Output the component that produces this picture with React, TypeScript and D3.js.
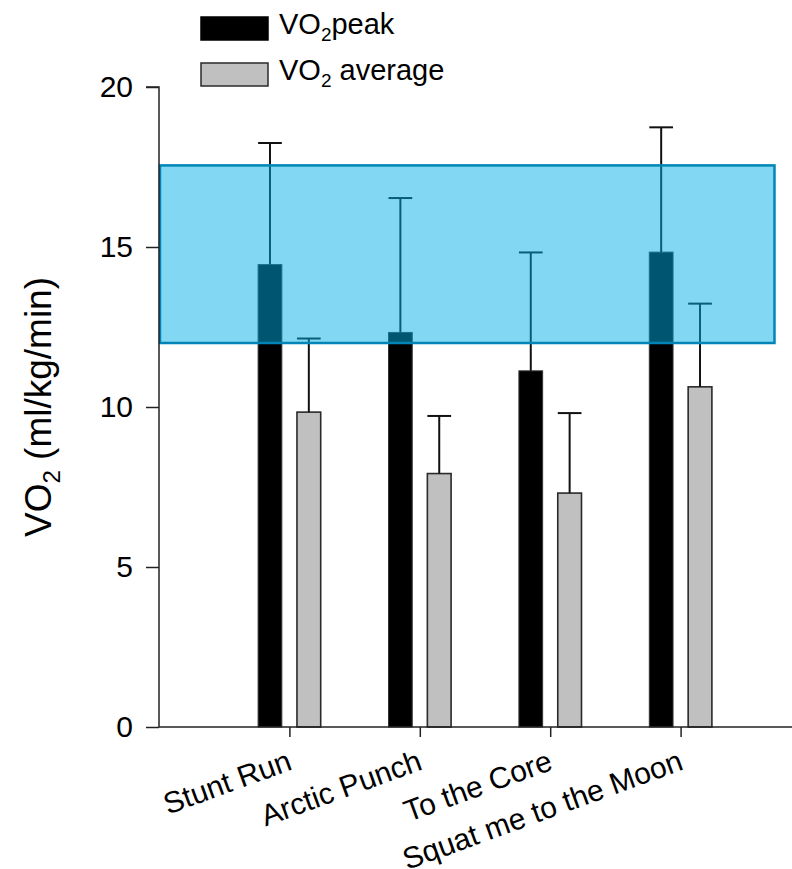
import { useEffect, useRef } from "react";
import * as d3 from "d3";

const categories = ["Stunt Run", "Arctic Punch", "To the Core", "Squat me to the Moon"];
const peakValues = [14.45, 12.33, 11.13, 14.84];
const peakErrors = [3.8, 4.2, 3.7, 3.9];
const averageValues = [9.84, 7.92, 7.31, 10.63];
const averageErrors = [2.3, 1.8, 2.5, 2.6];
const yTicks = [0, 5, 10, 15, 20];
// shaded target zone (y range, and x extent in category units)
const zoneY = [12, 17.55];
const zoneX = [0, 4.72];

export default function App() {
  const svgRef = useRef<SVGSVGElement>(null);
  const width = 792;
  const height = 869;

  useEffect(() => {
    drawChart();
  }, []);

  function drawChart() {
    const svg = d3.select(svgRef.current);
    svg.selectAll("*").remove();

    const x = d3.scaleLinear().domain([0, 5]).range([159, 811]);
    const y = d3.scaleLinear().domain([0, 20]).range([727, 87]);
    const barW = 0.182;
    const offset = 0.149;
    const font = "'Liberation Sans', Arial, sans-serif";

    const rows = categories.map((c, i) => ({
      name: c,
      pos: i + 1,
      peak: peakValues[i],
      peakErr: peakErrors[i],
      avg: averageValues[i],
      avgErr: averageErrors[i],
    }));

    const bars = svg.append("g");
    // peak bars
    bars.selectAll("rect.peak")
      .data(rows)
      .join("rect")
      .attr("class", "peak")
      .attr("x", (d) => x(d.pos - offset - barW / 2))
      .attr("width", x(barW) - x(0))
      .attr("y", (d) => y(d.peak))
      .attr("height", (d) => y(0) - y(d.peak))
      .attr("fill", "#000")
      .attr("stroke", "#333")
      .attr("stroke-width", 1);

    // average bars
    bars.selectAll("rect.avg")
      .data(rows)
      .join("rect")
      .attr("class", "avg")
      .attr("x", (d) => x(d.pos + offset - barW / 2))
      .attr("width", x(barW) - x(0))
      .attr("y", (d) => y(d.avg))
      .attr("height", (d) => y(0) - y(d.avg))
      .attr("fill", "#c0c0c0")
      .attr("stroke", "#2a2a2a")
      .attr("stroke-width", 1.6);

    // error bars (upper only)
    const errs = rows.flatMap((d) => [
      { cx: d.pos - offset, v: d.peak, e: d.peakErr },
      { cx: d.pos + offset, v: d.avg, e: d.avgErr },
    ]);
    const eg = svg.append("g").attr("stroke", "#111").attr("stroke-width", 2);
    eg.selectAll("line.stem")
      .data(errs)
      .join("line")
      .attr("x1", (d) => x(d.cx))
      .attr("x2", (d) => x(d.cx))
      .attr("y1", (d) => y(d.v))
      .attr("y2", (d) => y(d.v + d.e));
    eg.selectAll("line.cap")
      .data(errs)
      .join("line")
      .attr("x1", (d) => x(d.cx - barW / 2))
      .attr("x2", (d) => x(d.cx + barW / 2))
      .attr("y1", (d) => y(d.v + d.e))
      .attr("y2", (d) => y(d.v + d.e));

    // target zone
    svg.append("rect")
      .attr("x", x(zoneX[0]) + 1)
      .attr("y", y(zoneY[1]))
      .attr("width", x(zoneX[1]) - x(zoneX[0]) - 1)
      .attr("height", y(zoneY[0]) - y(zoneY[1]))
      .attr("fill", "rgb(0,175,230)")
      .attr("fill-opacity", 0.49)
      .attr("stroke", "#0086b6")
      .attr("stroke-width", 2.5);

    // y axis
    const ya = svg.append("g").attr("transform", `translate(${x(0)},0)`)
      .call(d3.axisLeft(y).tickValues(yTicks).tickSize(13).tickPadding(13).tickFormat(d3.format("d")));
    ya.select(".domain").attr("stroke", "#222").attr("stroke-width", 1.5).attr("d", `M-13,${y(20)}H0V${y(0)}`);
    ya.selectAll(".tick line").attr("stroke", "#222").attr("stroke-width", 1.5);
    ya.selectAll(".tick text").attr("font-family", font).attr("font-size", 30).attr("fill", "#000");

    // x axis
    const xa = svg.append("g").attr("transform", `translate(0,${y(0)})`)
      .call(d3.axisBottom(x).tickValues(rows.map((d) => d.pos)).tickSize(10).tickFormat(() => ""));
    xa.select(".domain").attr("stroke", "#222").attr("stroke-width", 1.5).attr("d", `M${x(0)},0H${x(5)}`);
    xa.selectAll(".tick line").attr("stroke", "#222").attr("stroke-width", 1.5);

    svg.append("g")
      .selectAll("text")
      .data(rows)
      .join("text")
      .attr("transform", (d) => `translate(${x(d.pos) + 4},${y(0) + 42}) rotate(-20)`)
      .attr("text-anchor", "end")
      .attr("font-family", font)
      .attr("font-size", 30)
      .text((d) => d.name);

    // y label
    const yl = svg.append("text")
      .attr("transform", `translate(51,${y(10)}) rotate(-90)`)
      .attr("text-anchor", "middle")
      .attr("font-family", font)
      .attr("font-size", 37);
    yl.append("tspan").text("VO");
    yl.append("tspan").attr("font-size", 24).attr("dy", 9).text("2");
    yl.append("tspan").attr("dy", -9).text(" (ml/kg/min)");

    // legend
    const legend = [
      { label: "peak", fill: "#000", stroke: "#000", top: 17 },
      { label: " average", fill: "#c0c0c0", stroke: "#2a2a2a", top: 63 },
    ];
    const lg = svg.append("g");
    legend.forEach((l) => {
      lg.append("rect")
        .attr("x", 201).attr("y", l.top).attr("width", 67).attr("height", 23)
        .attr("fill", l.fill).attr("stroke", l.stroke).attr("stroke-width", 1.5);
      const t = lg.append("text")
        .attr("x", 279).attr("y", l.top + 17)
        .attr("font-family", font).attr("font-size", 29);
      t.append("tspan").text("VO");
      t.append("tspan").attr("font-size", 19).attr("dy", 7).text("2");
      t.append("tspan").attr("dy", -7).text(l.label);
    });
  }

  return (
    <div className="chart">
      <svg ref={svgRef} width={width} height={height} style={{ position: "absolute", left: 0, top: 0 }}></svg>
    </div>
  );
}
